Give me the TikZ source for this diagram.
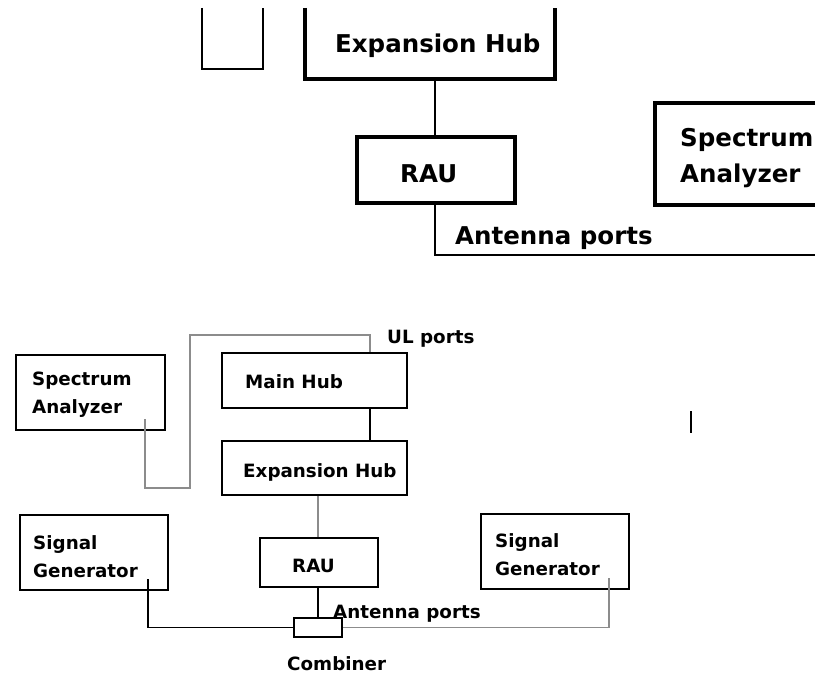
\documentclass[tikz,border=0pt]{standalone}
\usepackage{fontspec}
\setmainfont{DejaVu Sans}
\definecolor{wiregray}{rgb}{0.55, 0.55, 0.55}

\begin{document}
\begin{tikzpicture}[x = 1pt, y = -1pt,
  box/.style = {draw, line width = 2.6pt, inner sep = 0pt},
  bigbox/.style = {draw, line width = 3.4pt, inner sep = 0pt},
  txt/.style = {anchor = base west, inner sep = 0pt, align = left,
    font = \bfseries\fontsize{18.3}{28}\selectfont},
  bigtxt/.style = {anchor = base west, inner sep = 0pt, align = left,
    font = \bfseries\fontsize{24.5}{36}\selectfont},
  wire/.style = {line width = 1.2pt},
  greywire/.style = {line width = 1.4pt, wiregray}]

\useasboundingbox (0, 0) rectangle (826, 674);

% enlarged view, cut at the top
\draw [line width = 1.5pt] (202, 8) -- (202, 69) -- (263, 69) -- (263, 8);
\draw [line width = 3.4pt] (305, 8) |- (555, 79) -- (555, 8);
\draw [line width = 3.4pt] (815, 103) -| (655, 205) -- (815, 205);
\coordinate (exptop) at (435, 79);
\coordinate (antend) at (815, 255);
\node [bigbox, minimum width = 158pt, minimum height = 66pt] (rautop) at (436, 170) {};
\draw [line width = 1.5pt] (exptop) -- (rautop.north -| exptop);
\draw [line width = 1.5pt] (rautop.south -| exptop) |- (antend);
\node [bigtxt] (exptoptxt) at (335, 53) {Expansion Hub};
\node [bigtxt] (rautoptxt) at (400, 182) {RAU};
\node [bigtxt] (anttoptxt) at (455, 244) {Antenna ports};
\node [bigtxt] (satoptxt) at (680, 182) {Spectrum\\Analyzer};

% test setup
\node [box, minimum width = 149pt, minimum height = 75pt] (sa) at (90.5, 392.5) {};
\node [box, minimum width = 185pt, minimum height = 55pt] (mainhub) at (314.5, 380.5) {};
\node [box, minimum width = 185pt, minimum height = 54pt] (exphub) at (314.5, 468) {};
\node [box, minimum width = 148pt, minimum height = 75pt] (sgleft) at (94, 552.5) {};
\node [box, minimum width = 118pt, minimum height = 49pt] (rau) at (319, 562.5) {};
\node [box, minimum width = 148pt, minimum height = 75pt] (sgright) at (555, 551.5) {};
\node [box, minimum width = 48pt, minimum height = 19pt] (comb) at (318, 627.5) {};

\node [txt] (satxt) at (32, 413) {Spectrum\\Analyzer};
\node [txt] (ultxt) at (387, 343) {UL ports};
\node [txt] (mainhubtxt) at (245, 388) {Main Hub};
\node [txt] (exphubtxt) at (243, 477) {Expansion Hub};
\node [txt] (sglefttxt) at (33, 577) {Signal\\Generator};
\node [txt] (rautxt) at (292, 572) {RAU};
\node [txt] (sgrighttxt) at (495, 575) {Signal\\Generator};
\node [txt] (anttxt) at (333, 618) {Antenna ports};
\node [txt] (combtxt) at (287, 670) {Combiner};

\coordinate (saport) at (145, 419);
\coordinate (ulport) at (370, 335);
\coordinate (sgleftport) at (148, 579);
\coordinate (sgrightport) at (609, 578);

\draw [greywire] (saport) -- (145, 488) -| (190, 335) -- (ulport) -- (mainhub.north -| ulport);
\draw [wire] (mainhub.south -| ulport) -- (exphub.north -| ulport);
\draw [greywire] (exphub.south -| comb) -- (rau.north -| comb);
\draw [wire] (rau.south -| comb) -- (comb.north);
\draw [wire] (sgleftport) |- (comb.west);
\draw [greywire] (comb.east) -| (sgrightport);

\draw [line width = 2pt] (691, 411) -- (691, 433);

\end{tikzpicture}
\end{document}
